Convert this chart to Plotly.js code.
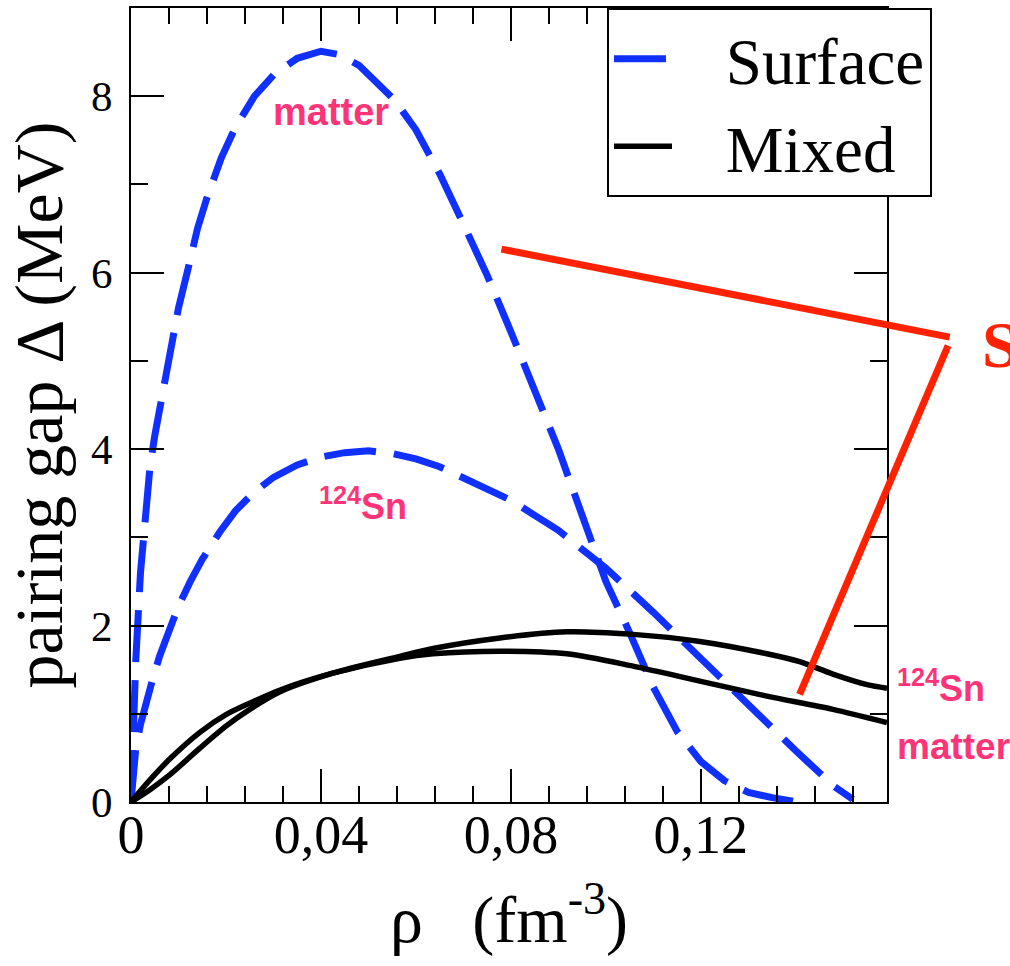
<!DOCTYPE html>
<html>
<head>
<meta charset="utf-8">
<script src="https://cdn.plot.ly/plotly-3.0.1.min.js"></script>
<style>html,body{margin:0;padding:0;background:#fff;}#chart{width:1010px;height:966px;}</style>
</head>
<body>
<div id="chart"></div>
<script>
// Surface pairing, nuclear matter (blue dashed, tall curve)
const surfMatterX = [0, 0.001, 0.002, 0.003, 0.004, 0.005, 0.0065, 0.008, 0.01, 0.012, 0.014, 0.016, 0.019, 0.022, 0.026, 0.03, 0.035, 0.04, 0.044, 0.048, 0.052, 0.0556, 0.06, 0.065, 0.07, 0.075, 0.08, 0.085, 0.09, 0.095, 0.1, 0.105, 0.11, 0.115, 0.12, 0.125, 0.13, 0.135, 0.1394];
const surfMatterY = [0, 1.6, 2.6, 3.3, 3.8, 4.15, 4.6, 5.05, 5.6, 6.04, 6.5, 6.85, 7.3, 7.65, 8.0, 8.24, 8.43, 8.51, 8.47, 8.35, 8.15, 7.95, 7.62, 7.12, 6.55, 5.97, 5.33, 4.66, 4.0, 3.25, 2.5, 1.92, 1.3, 0.8, 0.46, 0.24, 0.11, 0.05, 0.01];
// Surface pairing, 124Sn (blue dashed, lower curve)
const surfSnX = [0, 0.0005, 0.001, 0.002, 0.003, 0.0044, 0.006, 0.008, 0.01, 0.0125, 0.015, 0.0187, 0.022, 0.0257, 0.03, 0.035, 0.04, 0.045, 0.05, 0.055, 0.06, 0.065, 0.07, 0.08, 0.09, 0.1, 0.11, 0.12, 0.13, 0.14, 0.148, 0.152];
const surfSnY = [0, 0.3, 0.6, 0.88, 1.1, 1.36, 1.65, 1.95, 2.22, 2.5, 2.75, 3.06, 3.3, 3.5, 3.68, 3.82, 3.91, 3.96, 3.98, 3.95, 3.89, 3.8, 3.68, 3.42, 3.08, 2.65, 2.15, 1.62, 1.1, 0.58, 0.18, 0.03];
// Mixed pairing, 124Sn (black solid, upper at right)
const mixSnX = [0, 0.004, 0.0082, 0.0145, 0.02, 0.025, 0.0314, 0.0425, 0.0566, 0.0636, 0.0777, 0.0918, 0.1057, 0.1198, 0.1339, 0.1408, 0.1478, 0.155, 0.1592];
const mixSnY = [0, 0.14, 0.31, 0.61, 0.86, 1.05, 1.25, 1.46, 1.65, 1.74, 1.86, 1.93, 1.9, 1.82, 1.68, 1.59, 1.45, 1.33, 1.29];
// Mixed pairing, nuclear matter (black solid, lower at right)
const mixMatterX = [0, 0.004, 0.0082, 0.0145, 0.02, 0.025, 0.0314, 0.0425, 0.0566, 0.0636, 0.0777, 0.0918, 0.1057, 0.1198, 0.1339, 0.1478, 0.1592];
const mixMatterY = [0, 0.25, 0.49, 0.79, 0.99, 1.12, 1.27, 1.46, 1.63, 1.68, 1.71, 1.68, 1.54, 1.37, 1.2, 1.05, 0.9];

// Red pointer lines (tail -> head), in data units
const pointerTail = [[0.0777, 6.27], [0.1722, 5.19]];
const pointerHead = [[0.1724, 5.27], [0.1408, 1.22]];

// Legend labels
const legendNames = ['Surface', 'Mixed'];

const BLUE = '#1030ff';
const PINK = '#ff3377';
const RED = '#ff2200';
const SERIF = 'Liberation Serif, Times New Roman, serif';
const SANS = 'Liberation Sans, Arial, sans-serif';
const PAD = '\u00a0\u00a0\u00a0';

const dashed = {color: BLUE, width: 7, dash: '52px,18px'};
const solid = {color: 'black', width: 5.5, shape: 'spline', smoothing: 0.8};

const traces = [
  {x: surfMatterX, y: surfMatterY, mode: 'lines', name: PAD + legendNames[0], legendgroup: 's', line: dashed},
  {x: surfSnX, y: surfSnY, mode: 'lines', name: PAD + legendNames[0], legendgroup: 's', showlegend: false, line: dashed},
  {x: mixSnX, y: mixSnY, mode: 'lines', name: PAD + legendNames[1], legendgroup: 'm', line: solid},
  {x: mixMatterX, y: mixMatterY, mode: 'lines', name: PAD + legendNames[1], legendgroup: 'm', showlegend: false, line: solid}
];

const annotations = [
  {x: 0.0421, y: 7.82, xref: 'x', yref: 'y', text: '<b>matter</b>', showarrow: false,
   font: {family: SANS, size: 38, color: PINK}},
  {x: 0.0488, y: 3.38, xref: 'x', yref: 'y', text: '<b><sup>124</sup>Sn</b>', showarrow: false,
   font: {family: SANS, size: 36, color: PINK}},
  {x: 1.0106, y: 1.31, xref: 'paper', yref: 'y', xanchor: 'left', text: '<b><sup>124</sup>Sn</b>', showarrow: false,
   font: {family: SANS, size: 36, color: PINK}},
  {x: 1.0106, y: 0.63, xref: 'paper', yref: 'y', xanchor: 'left', text: '<b>matter</b>', showarrow: false,
   font: {family: SANS, size: 37, color: PINK}},
  {x: 1.123, y: 5.19, xref: 'paper', yref: 'y', xanchor: 'left', text: '<b>S</b>', showarrow: false,
   font: {family: SERIF, size: 66, color: RED}}
];
for (let i = 0; i < pointerTail.length; i++) {
  annotations.push({
    x: pointerHead[i][0], y: pointerHead[i][1], ax: pointerTail[i][0], ay: pointerTail[i][1],
    xref: 'x', yref: 'y', axref: 'x', ayref: 'y', text: '', showarrow: true,
    arrowhead: 0, arrowwidth: 7, arrowcolor: RED, standoff: 0, startstandoff: 0
  });
}

const layout = {
  width: 1010, height: 966,
  margin: {l: 131, r: 123, t: 8, b: 164},
  paper_bgcolor: 'white', plot_bgcolor: 'white',
  separators: ', ',
  showlegend: true,
  legend: {x: 0.6296, y: 1, xanchor: 'left', yanchor: 'top', bgcolor: 'white',
           bordercolor: 'black', borderwidth: 2, font: {family: SERIF, size: 65, color: 'black'},
           itemwidth: 58, tracegroupgap: 0},
  xaxis: {
    range: [0, 0.1592], showgrid: false, zeroline: false,
    showline: true, linecolor: 'black', linewidth: 2, mirror: 'allticks',
    ticks: 'inside', ticklen: 33, tickwidth: 2, tickcolor: 'black',
    tick0: 0, dtick: 0.04,
    minor: {ticks: 'inside', ticklen: 16, tickwidth: 2, tickcolor: 'black', dtick: 0.008, showgrid: false},
    tickfont: {family: SERIF, size: 54, color: 'black'},
    ticklabelstandoff: -16,
    title: {text: 'ρ\u00a0\u00a0\u00a0(fm<sup>-3</sup>)', font: {family: SERIF, size: 66, color: 'black'}, standoff: 32},
    automargin: false
  },
  yaxis: {
    range: [0, 9], showgrid: false, zeroline: false,
    showline: true, linecolor: 'black', linewidth: 2, mirror: 'allticks',
    ticks: 'inside', ticklen: 33, tickwidth: 2, tickcolor: 'black',
    tick0: 0, dtick: 2,
    minor: {ticks: 'inside', ticklen: 17, tickwidth: 2, tickcolor: 'black', dtick: 1, showgrid: false},
    tickfont: {family: SERIF, size: 43, color: 'black'},
    ticklabelstandoff: 8,
    title: {text: 'pairing gap Δ (MeV)', font: {family: SERIF, size: 68, color: 'black'}, standoff: 6},
    automargin: false
  },
  annotations: annotations
};

Plotly.newPlot('chart', traces, layout, {displayModeBar: false, staticPlot: true});
</script>
</body>
</html>
